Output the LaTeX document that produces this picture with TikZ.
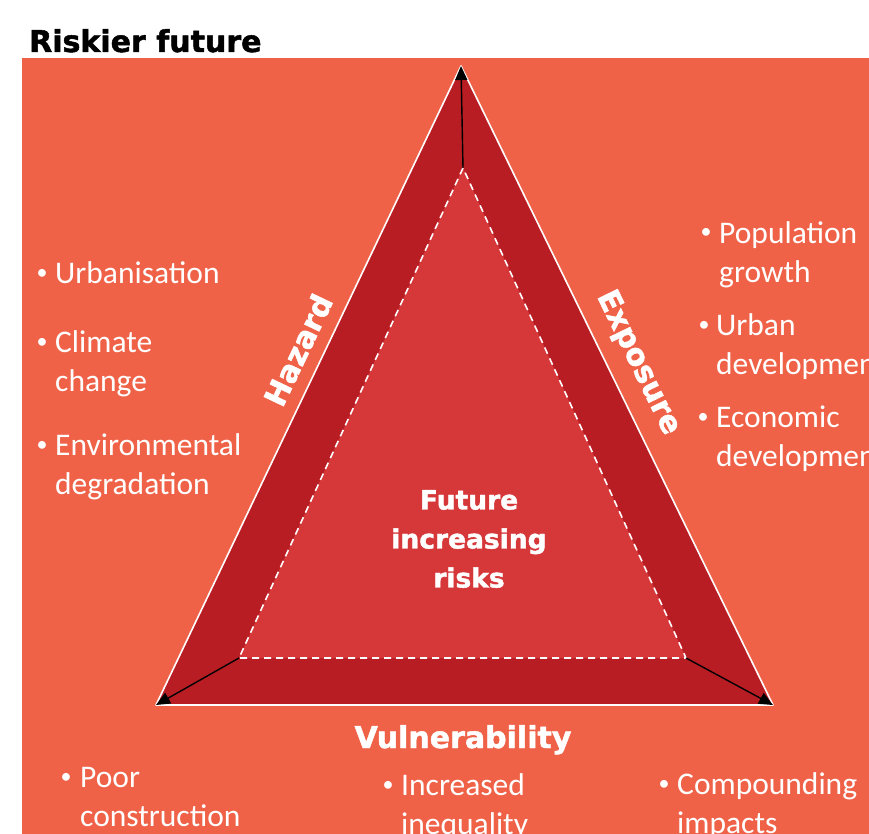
\documentclass[tikz,border=0pt]{standalone}
\usepackage{fontspec}
\setmainfont{Carlito}
\newfontfamily\heavy{DejaVu Sans}[BoldFeatures={FakeBold=1.6}]
\usetikzlibrary{arrows.meta}
\definecolor{bgorange}{HTML}{EF6248}
\definecolor{darkred}{HTML}{B91D24}
\definecolor{midred}{HTML}{D6383A}
\tikzset{
  item/.style={anchor=base west, inner sep=0pt, text=white, align=left,
    font=\fontsize{31.5}{39}\selectfont},
  bul/.style={anchor=base, inner sep=0pt, text=white,
    font=\fontsize{22}{26}\selectfont},
  sidelabel/.style={text=white, inner sep=0pt,
    font=\heavy\bfseries\fontsize{30}{34}\selectfont},
  arr/.style={black, line width=1.4pt, -{Triangle[length=14pt,width=12pt]}},
}
\begin{document}
\begin{tikzpicture}[x=1pt,y=-1pt]
\useasboundingbox (0,0) rectangle (869,834);
\clip (0,0) rectangle (869,834);
\fill[white] (0,0) rectangle (869,834);
\fill[bgorange] (22,58) rectangle (880,850);
\node[anchor=base west, inner sep=0pt, font=\heavy\bfseries\fontsize{30}{34}\selectfont] (title) at (29,52) {Riskier future};
% vertices
\coordinate (OA) at (461,66);
\coordinate (OB) at (156,705);
\coordinate (OC) at (773,705);
\coordinate (IA) at (463,168);
\coordinate (IB) at (239,658);
\coordinate (IC) at (686,658);
\fill[darkred] (OA) -- (OB) -- (OC) -- cycle;
\fill[midred] (IA) -- (IB) -- (IC) -- cycle;
\draw[white, line width=1.6pt, line join=round] (OA) -- (OB) -- (OC) -- cycle;
\draw[white, line width=1.6pt, dash pattern=on 7pt off 5pt] (IA) -- (IB) -- (IC) -- cycle;
\draw[arr] (IA) -- (OA);
\draw[arr] (IB) -- (OB);
\draw[arr] (IC) -- (OC);
% centre
\node[text=white, align=center, inner sep=0pt, font=\heavy\bfseries\fontsize{26.5}{39}\selectfont] (centre) at (469,539) {Future\\increasing\\risks};
% side labels
\node[sidelabel, rotate=64.5] (hazard) at (298,350) {Hazard};
\node[sidelabel, rotate=-64] (exposure) at (638,363) {Exposure};
\node[sidelabel, anchor=base] (vuln) at (463,748) {Vulnerability};
% hazard items (anchor = baseline of last line)
\node[item] (h1) at (55,283) {Urbanisation};
\node[item] (h2) at (55,391) {Climate\\change};
\node[item] (h3) at (55,494) {Environmental\\degradation};
\node[bul] (bh1) at (42,279) {•};
\node[bul] (bh2) at (42,348) {•};
\node[bul] (bh3) at (42,451) {•};
% exposure items
\node[item] (e1) at (719,282) {Population\\growth};
\node[item] (e2) at (716,374) {Urban\\development};
\node[item] (e3) at (716,466) {Economic\\development};
\node[bul] (be1) at (706,239) {•};
\node[bul] (be2) at (704,331) {•};
\node[bul] (be3) at (703,423) {•};
% vulnerability items
\node[item] (v1) at (80,826) {Poor\\construction};
\node[item] (v2) at (401,834) {Increased\\inequality};
\node[item] (v3) at (677,833) {Compounding\\impacts};
\node[bul] (bv1) at (66,783) {•};
\node[bul] (bv2) at (388,791) {•};
\node[bul] (bv3) at (664,790) {•};
\end{tikzpicture}
\end{document}
